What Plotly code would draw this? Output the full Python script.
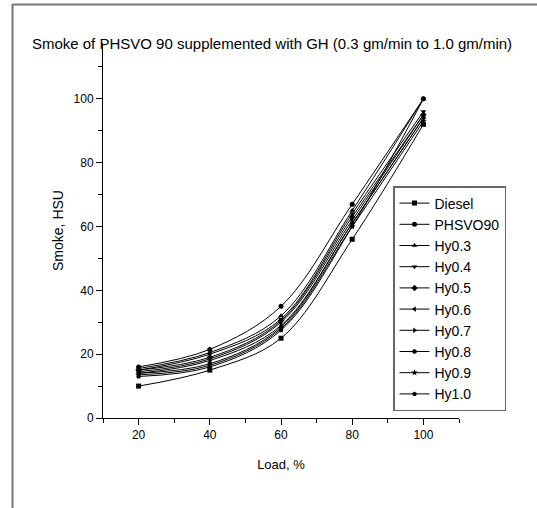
import plotly.graph_objects as go

load = [20, 40, 60, 80, 100]
series_names = ["Diesel", "PHSVO90", "Hy0.3", "Hy0.4", "Hy0.5", "Hy0.6", "Hy0.7", "Hy0.8", "Hy0.9", "Hy1.0"]
diesel = [10, 15, 25, 56, 92]
phsvo90 = [16, 21.5, 35, 67, 100]
hy03 = [15.5, 20.5, 32, 65, 100]
hy04 = [15, 20, 31, 64, 96]
hy05 = [15, 19, 30.5, 63, 95]
hy06 = [14.5, 18.5, 30, 62, 95]
hy07 = [14, 18, 29, 61, 94]
hy08 = [14, 17, 28.5, 61, 94]
hy09 = [13.5, 16.5, 28, 60, 93]
hy10 = [13, 16, 27.5, 60, 100]
values = [diesel, phsvo90, hy03, hy04, hy05, hy06, hy07, hy08, hy09, hy10]
symbols = ["square", "circle", "triangle-up", "triangle-down", "diamond",
           "triangle-left", "triangle-right", "hexagon", "star", "pentagon"]

FONT = "Liberation Sans, Arial, sans-serif"

fig = go.Figure()
for name, vals, sym in zip(series_names, values, symbols):
    fig.add_trace(go.Scatter(
        x=load, y=vals, name=name, mode="lines+markers",
        line=dict(color="black", width=1, shape="spline", smoothing=1.0),
        marker=dict(symbol=sym, size=5, color="black"),
    ))

W, H = 537, 508
L, R, T, B = 103, 78, 43, 90
pw, ph = W - L - R, H - T - B

def px_x(p):
    return (p - L) / pw

def px_y(p):
    return (H - B - p) / ph

fig.update_layout(
    width=W, height=H,
    margin=dict(l=L, r=R, t=T, b=B),
    paper_bgcolor="white", plot_bgcolor="white",
    font=dict(family=FONT, size=12, color="black"),
    title=dict(text="Smoke of PHSVO 90 supplemented with GH (0.3 gm/min to 1.0 gm/min)",
               x=272 / W, xref="container", xanchor="center",
               y=1 - 38 / H, yref="container", yanchor="top",
               font=dict(family=FONT, size=15, color="black")),
    showlegend=True,
    legend=dict(x=px_x(393), y=px_y(186), xanchor="left", yanchor="top",
                bgcolor="white", bordercolor="#666666", borderwidth=1.5,
                font=dict(family=FONT, size=14, color="black"),
                tracegroupgap=0, itemwidth=30),
    xaxis=dict(range=[10, 110], tickvals=[20, 40, 60, 80, 100],
               ticks="outside", ticklen=6, tickcolor="black", tickwidth=1,
               minor=dict(ticks="outside", ticklen=4, tickcolor="black", dtick=10, tick0=0),
               showline=True, linecolor="black", linewidth=1,
               showgrid=False, zeroline=False,
               title=dict(text="Load, %", font=dict(family=FONT, size=13), standoff=18),
               tickfont=dict(family=FONT, size=12)),
    yaxis=dict(range=[0, 117.5], tickvals=[0, 20, 40, 60, 80, 100],
               ticks="outside", ticklen=6, tickcolor="black", tickwidth=1,
               minor=dict(ticks="outside", ticklen=4, tickcolor="black", dtick=10, tick0=0),
               showline=True, linecolor="black", linewidth=1,
               showgrid=False, zeroline=False,
               title=dict(text="Smoke, HSU", font=dict(family=FONT, size=14), standoff=6),
               tickfont=dict(family=FONT, size=12)),
)

# outer frame lines (left and top of the picture frame)
fig.add_shape(type="line", xref="paper", yref="paper",
              x0=px_x(12.5), x1=px_x(12.5), y0=px_y(4), y1=px_y(520),
              line=dict(color="#777777", width=2), layer="above")
fig.add_shape(type="line", xref="paper", yref="paper",
              x0=px_x(12.5), x1=px_x(545), y0=px_y(4.5), y1=px_y(4.5),
              line=dict(color="#777777", width=2), layer="above")

fig.write_html("out.html")
